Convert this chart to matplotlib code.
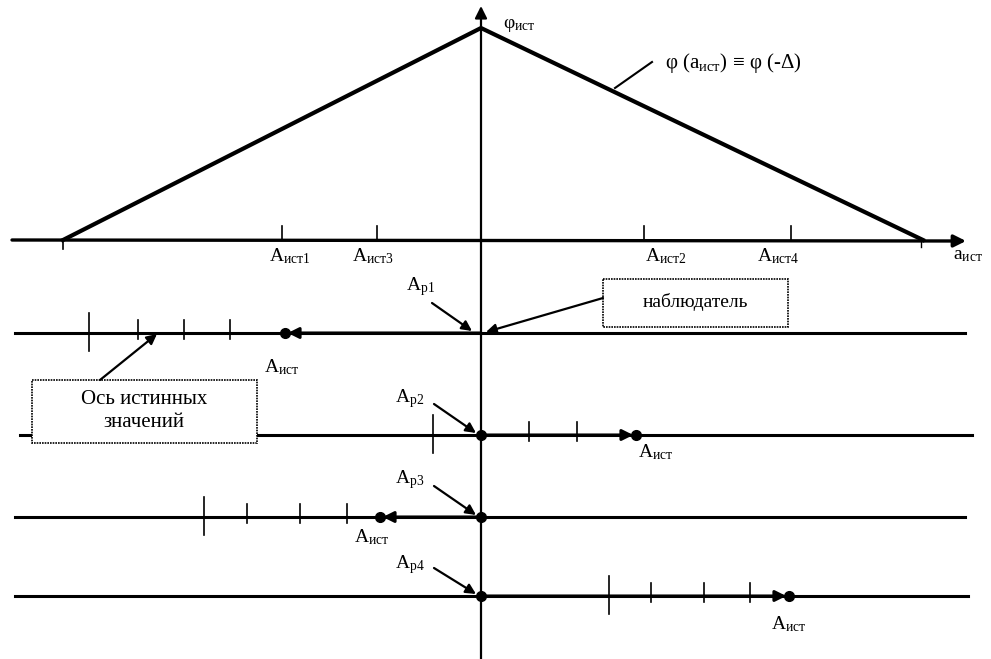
import matplotlib.pyplot as plt
from matplotlib.patches import Rectangle

plt.rcParams['font.family'] = ['Liberation Serif', 'DejaVu Serif']
plt.rcParams['mathtext.fontset'] = 'custom'
plt.rcParams['mathtext.rm'] = 'Liberation Serif'
plt.rcParams['mathtext.it'] = 'Liberation Serif:italic'

# top plot: triangle phi(a) over the true-value axis
tri_x = [63, 481, 923]
tri_y = [240, 28, 240]
top_ticks = [282, 377, 644, 791]
top_labels = ['A$_{\\mathrm{ист1}}$', 'A$_{\\mathrm{ист3}}$', 'A$_{\\mathrm{ист2}}$', 'A$_{\\mathrm{ист4}}$']
top_label_x = [290, 373, 666, 778]

# four scales below
scale_y = [333, 435, 517, 596]
scale_ticks = [[89, 138, 184, 230],
               [433, 529, 577],
               [204, 247, 300, 347],
               [609, 651, 704, 750]]
true_pos = [285, 636, 380, 789]
true_label_pos = [(282, 367), (656, 452), (372, 537), (789, 624)]
ap_names = ['A$_{\\mathrm{p1}}$', 'A$_{\\mathrm{p2}}$', 'A$_{\\mathrm{p3}}$', 'A$_{\\mathrm{p4}}$']
ap_label_pos = [(421, 287), (410, 399), (410, 480), (410, 565)]
ap_arrow_from = [(432, 303), (434, 404), (434, 486), (434, 568)]
scale_x0 = [15, 20, 15, 15]
scale_x1 = [965, 972, 965, 968]

center = 481

fig = plt.figure(figsize=(9.91, 6.59), dpi=100)
ax = fig.add_axes([0, 0, 1, 1])
ax.set_xlim(0, 991)
ax.set_ylim(659, 0)
ax.axis('off')

# vertical axis
ax.annotate('', xy=(center, 6), xytext=(center, 659),
            arrowprops=dict(arrowstyle='-|>', color='black', lw=1.6,
                            mutation_scale=18, shrinkA=0, shrinkB=0))
ax.text(503, 25, 'φ$_{\\mathrm{ист}}$', fontsize=14, va='center', ha='left')

# horizontal axis
ax.annotate('', xy=(966, 241), xytext=(12, 240),
            arrowprops=dict(arrowstyle='-|>', color='black', lw=2.4,
                            mutation_scale=18, shrinkA=0, shrinkB=0))
ax.text(968, 256, 'a$_{\\mathrm{ист}}$', fontsize=14, va='center', ha='center')
ax.plot(tri_x, tri_y, color='black', lw=3, solid_joinstyle='miter')
for tx in top_ticks:
    ax.plot([tx, tx], [226, 240], color='black', lw=1.2)
ax.plot([63, 63], [240, 249], color='black', lw=1.2)
ax.plot([921, 921], [240, 247], color='black', lw=1.0)
for lx, lab in zip(top_label_x, top_labels):
    ax.text(lx, 256, lab, fontsize=14, ha='center', va='center')

ax.text(665, 63, 'φ (a$_{\\mathrm{ист}}$) ≡ φ (-Δ)', fontsize=15, ha='left', va='center')
ax.plot([652, 615], [62, 88], color='black', lw=1.5)

# scales
for i, y in enumerate(scale_y):
    ax.plot([scale_x0[i], scale_x1[i]], [y, y], color='black', lw=2.2)
    ticks = scale_ticks[i]
    ax.plot([ticks[0], ticks[0]], [y - 20, y + 18], color='black', lw=1.2)
    for tx in ticks[1:]:
        ax.plot([tx, tx], [y - 13, y + 6], color='black', lw=1.2)
    ax.annotate('', xy=(true_pos[i], y), xytext=(center, y),
                arrowprops=dict(arrowstyle='-|>', color='black', lw=2.2,
                                mutation_scale=16, shrinkA=0, shrinkB=2))
    ax.plot(true_pos[i], y, 'o', color='black', ms=7)
    ax.text(true_label_pos[i][0], true_label_pos[i][1], 'A$_{\\mathrm{ист}}$',
            fontsize=14, ha='center', va='center')
    ax.text(ap_label_pos[i][0], ap_label_pos[i][1], ap_names[i],
            fontsize=14, ha='center', va='center')
    ax.annotate('', xy=(center - 9 if i == 0 else center - 5, y - 2), xytext=ap_arrow_from[i],
                arrowprops=dict(arrowstyle='-|>', color='black', lw=1.6,
                                mutation_scale=15, shrinkA=0, shrinkB=0))
    if i > 0:
        ax.plot(center, y, 'o', color='black', ms=7)

# "observer" box
ax.add_patch(Rectangle((603, 279), 185, 48, fill=False, ec='black', lw=1.2, ls=(0, (1, 0.6))))
ax.text(695, 302, 'наблюдатель', fontsize=14, ha='center', va='center')
ax.annotate('', xy=(486, 332), xytext=(603, 298),
            arrowprops=dict(arrowstyle='-|>', color='black', lw=1.6,
                            mutation_scale=15, shrinkA=0, shrinkB=0))

# "true-value axis" box
ax.add_patch(Rectangle((32, 380), 225, 63, fc='white', ec='black', lw=1.2,
                       ls=(0, (1, 0.6)), zorder=3))
ax.text(144, 411, 'Ось истинных\nзначений', fontsize=15, ha='center', va='center',
        linespacing=1.3, zorder=4)
ax.annotate('', xy=(157, 334), xytext=(100, 380),
            arrowprops=dict(arrowstyle='-|>', color='black', lw=1.6,
                            mutation_scale=15, shrinkA=0, shrinkB=0))

fig.savefig('out.png', dpi=100, facecolor='white')
